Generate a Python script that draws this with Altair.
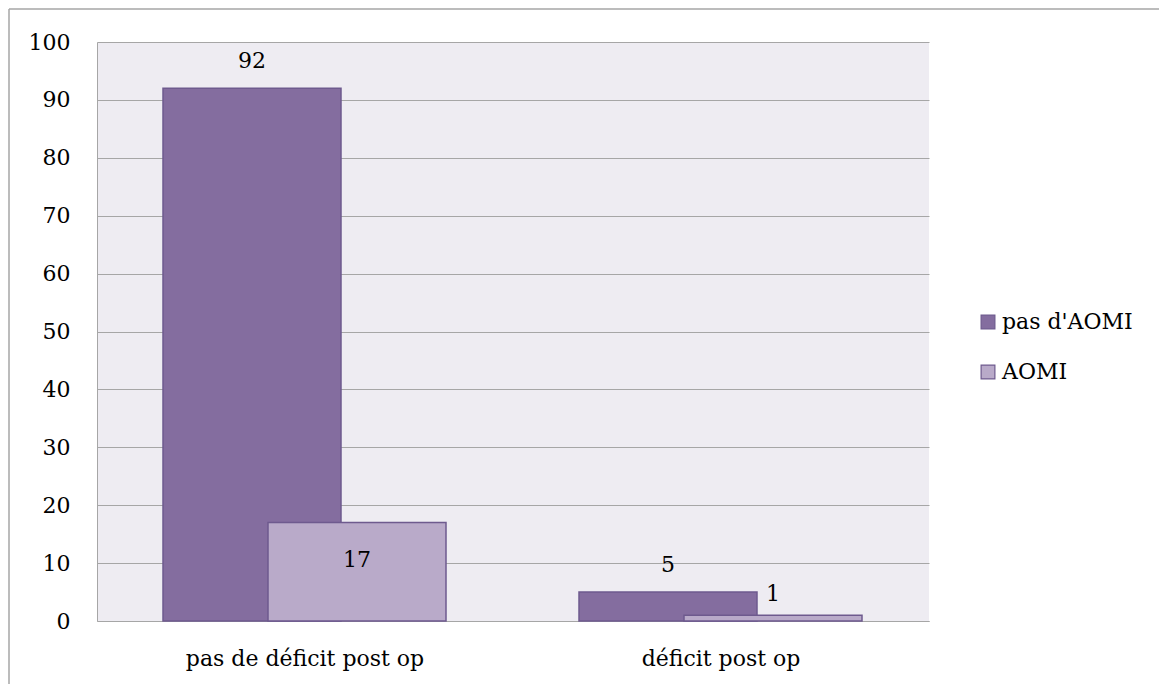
import altair as alt
import pandas as pd

categories = ["pas de déficit post op", "déficit post op"]
series = ["pas d'AOMI", "AOMI"]
values_pas_aomi = [92, 5]
values_aomi = [17, 1]

rows = []
for i, c in enumerate(categories):
    rows.append({"category": c, "series": series[0], "value": values_pas_aomi[i]})
    rows.append({"category": c, "series": series[1], "value": values_aomi[i]})
df = pd.DataFrame(rows)

FONT = "DejaVu Serif"
FS = 22
DARK = "#846D9F"
LIGHT = "#B9AAC9"
STROKE = "#6E5A8E"

x_enc = alt.X("category:N", sort=categories, title=None,
              axis=alt.Axis(labelAngle=0, ticks=False, labelPadding=27, domainColor="#A6A6A6",
                            labelFont=FONT, labelFontSize=FS, labelColor="black", grid=False,
                            labelLimit=0))
y_enc = alt.Y("value:Q", title=None, scale=alt.Scale(domain=[0, 100], nice=False),
              axis=alt.Axis(values=list(range(0, 101, 10)), ticks=False, labelPadding=27,
                            domainColor="#A6A6A6", gridColor="#A6A6A6", gridWidth=1.2,
                            labelFont=FONT, labelFontSize=FS, labelColor="black"))
color_enc = alt.Color("series:N", sort=series, title=None,
                      scale=alt.Scale(domain=series, range=[DARK, LIGHT]),
                      legend=alt.Legend(orient="none", legendX=880, legendY=269,
                                        symbolType="square", symbolSize=190,
                                        symbolStrokeColor=STROKE, symbolStrokeWidth=1.2,
                                        labelFont=FONT, labelFontSize=FS, labelColor="black",
                                        rowPadding=28, labelOffset=3, labelLimit=0))

base = alt.Chart(df)

bar_dark = base.transform_filter(alt.datum.series == series[0]).mark_bar(
    size=178, xOffset=-53, stroke=STROKE, strokeWidth=1.5
).encode(x=x_enc, y=y_enc, color=color_enc)

bar_light = base.transform_filter(alt.datum.series == series[1]).mark_bar(
    size=178, xOffset=52, stroke=STROKE, strokeWidth=1.5
).encode(x=x_enc, y=y_enc, color=color_enc)

text_dark = base.transform_filter(alt.datum.series == series[0]).mark_text(
    xOffset=-53, dy=-27, font=FONT, fontSize=FS, color="black", baseline="middle"
).encode(x=x_enc, y=y_enc, text="value:Q")

text_light_a = base.transform_filter(
    (alt.datum.series == series[1]) & (alt.datum.category == categories[0])
).mark_text(xOffset=52, dy=37, font=FONT, fontSize=FS, color="black", baseline="middle"
).encode(x=x_enc, y=y_enc, text="value:Q")

text_light_b = base.transform_filter(
    (alt.datum.series == series[1]) & (alt.datum.category == categories[1])
).mark_text(xOffset=52, dy=-21, font=FONT, fontSize=FS, color="black", baseline="middle"
).encode(x=x_enc, y=y_enc, text="value:Q")

one = alt.Chart(pd.DataFrame({"a": [0]}))
border_top = one.mark_rule(color="#A6A6A6", strokeWidth=1.5).encode(
    x=alt.value(-88), x2=alt.value(1100), y=alt.value(-33))
border_left = one.mark_rule(color="#A6A6A6", strokeWidth=1.5).encode(
    x=alt.value(-88), y=alt.value(-33), y2=alt.value(700))

chart = alt.layer(
    border_top, border_left, bar_dark, bar_light, text_dark, text_light_a, text_light_b
).properties(
    width=832, height=579,
    autosize=alt.AutoSizeParams(type="none"),
    padding={"left": 97, "top": 42, "right": 230, "bottom": 63},
    background="white",
).configure_view(
    fill="#EEECF2", stroke=None
)

chart.save("out.html", embed_options={"renderer": "svg", "actions": False})
